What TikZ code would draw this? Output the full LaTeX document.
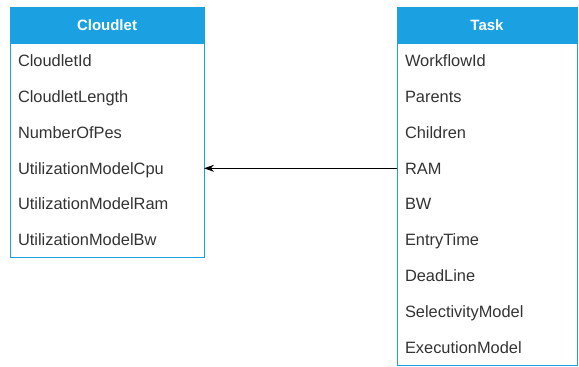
\documentclass[tikz,border=0pt]{standalone}
\usepackage{fontspec}
\setmainfont{Liberation Sans}
\usepackage{tikz}
\usetikzlibrary{arrows.meta,positioning}
\definecolor{umlblue}{HTML}{1BA1E2}
\definecolor{attrgray}{HTML}{333333}

\tikzset{
	head/.style={draw=umlblue, fill=umlblue, text=white, font=\bfseries\fontsize{15}{18}\selectfont, minimum height=36pt, inner sep=0pt, outer sep=0pt},
	attr/.style={font=\fontsize{16.4}{18}\selectfont, text=attrgray, text height=13.5pt, text depth=2pt, minimum height=35.8pt, inner ysep=0pt, inner xsep=8pt, outer sep=0pt, align=left},
	cattr/.style={attr, text width=178pt},
	tattr/.style={attr, text width=164pt},
}

\begin{document}
\begin{tikzpicture}[x=1pt, y=-1pt]
	\useasboundingbox (0,0) rectangle (579,367);
	% Cloudlet
		\node (cloudlet) at (107,25) [head, minimum width=194pt] {Cloudlet};
		\node (cid) [cattr, below=0pt of cloudlet] {CloudletId};
		\node (clength) [cattr, below=0pt of cid] {CloudletLength};
		\node (cpes) [cattr, below=0pt of clength] {NumberOfPes};
		\node (ucpu) [cattr, below=0pt of cpes] {UtilizationModelCpu};
		\node (uram) [cattr, below=0pt of ucpu] {UtilizationModelRam};
		\node (ubw) [cattr, below=0pt of uram] {UtilizationModelBw};
		\draw[umlblue, line width=1pt] (cloudlet.north west) rectangle (ubw.south east);
	% Task
		\node (task) at (487,25) [head, minimum width=180pt] {Task};
		\node (wid) [tattr, below=0pt of task] {WorkflowId};
		\node (parents) [tattr, below=0pt of wid] {Parents};
		\node (children) [tattr, below=0pt of parents] {Children};
		\node (ram) [tattr, below=0pt of children] {RAM};
		\node (bw) [tattr, below=0pt of ram] {BW};
		\node (entry) [tattr, below=0pt of bw] {EntryTime};
		\node (deadline) [tattr, below=0pt of entry] {DeadLine};
		\node (selectivity) [tattr, below=0pt of deadline] {SelectivityModel};
		\node (execution) [tattr, below=0pt of selectivity] {ExecutionModel};
		\draw[umlblue, line width=1pt] (task.north west) rectangle (execution.south east);
	% Kante
		\draw[line width=0.8pt, -{Stealth[length=10pt, width=7pt]}] (ram) -- (ucpu);
\end{tikzpicture}
\end{document}
